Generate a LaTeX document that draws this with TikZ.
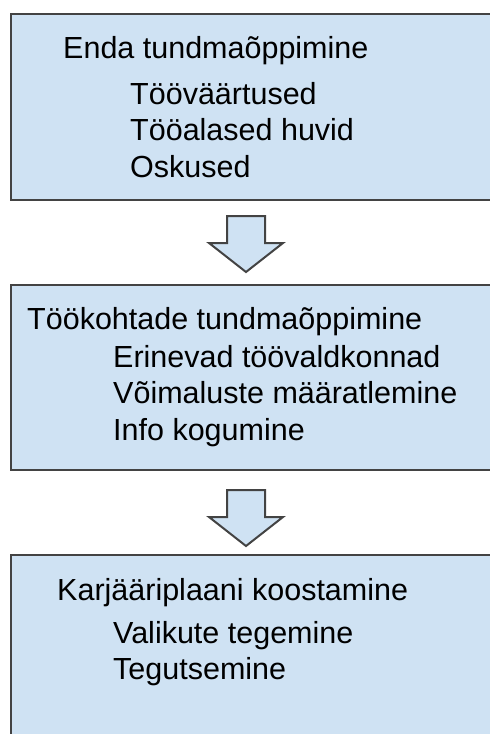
\documentclass[tikz,border=0pt]{standalone}
\usepackage{fontspec}
\setmainfont{Liberation Sans}
\usetikzlibrary{positioning}

\definecolor{boxfill}{HTML}{CFE2F3}
\definecolor{boxedge}{HTML}{434343}

\tikzset{
	stepbox/.style={draw=boxedge, line width=2pt, fill=boxfill},
	steptxt/.style={anchor=base west, inner sep=0pt, font=\fontsize{30.5}{36}\selectfont},
	flowarrow/.pic={
		\draw[stepbox, line join=miter] (-19,0) -- (19,0) -- (19,27) -- (37,27) -- (0,56)
			-- (-37,27) -- (-19,27) -- cycle;
	}
}

\begin{document}
\begin{tikzpicture}[x=1pt, y=-1pt]
	\useasboundingbox (0,0) rectangle (490,734);
	\clip (0,0) rectangle (490,734);
	
	% --- Kastid ---
	\draw[stepbox] (11,14) rectangle (520,200);
	\draw[stepbox] (11,285) rectangle (520,470);
	\draw[stepbox] (11,555) rectangle (520,770);
	
	% --- Nooled kastide vahel ---
	\pic at (246,216) {flowarrow};
	\pic at (246,490) {flowarrow};
	
	% --- Esimene kast ---
	\node[steptxt] (enda) at (63,58.5) {Enda tundmaõppimine};
	\node[steptxt] (vaartus) at (130,104) {Tööväärtused};
	\node[steptxt] (huvid) at ([yshift=-36.5pt]vaartus.base west) {Tööalased huvid};
	\node[steptxt] (oskus) at ([yshift=-36.5pt]huvid.base west) {Oskused};
	
	% --- Teine kast ---
	\node[steptxt] (tookoht) at (27,329) {Töökohtade tundmaõppimine};
	\node[steptxt] (valdkond) at (113,367) {Erinevad töövaldkonnad};
	\node[steptxt] (voimalus) at ([yshift=-36.5pt]valdkond.base west) {Võimaluste määratlemine};
	\node[steptxt] (info) at ([yshift=-36.5pt]voimalus.base west) {Info kogumine};
	
	% --- Kolmas kast ---
	\node[steptxt] (karjaar) at (57,600) {Karjääriplaani koostamine};
	\node[steptxt] (valik) at (113,643) {Valikute tegemine};
	\node[steptxt] (tegut) at ([yshift=-36.5pt]valik.base west) {Tegutsemine};
\end{tikzpicture}
\end{document}
